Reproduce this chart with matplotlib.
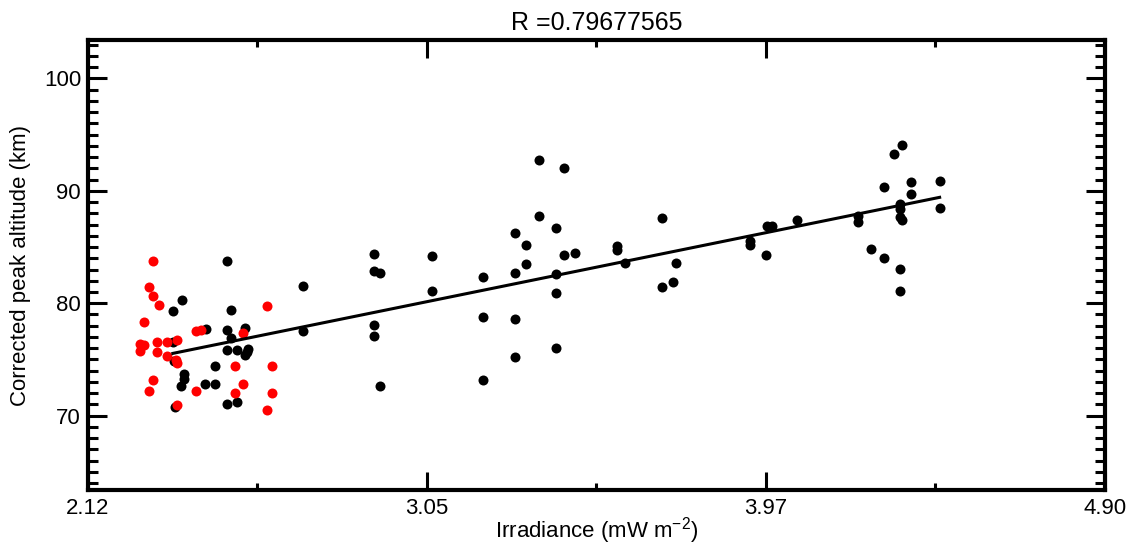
import matplotlib
matplotlib.use("Agg")
import matplotlib.pyplot as plt
from matplotlib.ticker import MultipleLocator, FixedLocator
import numpy as np

plt.rcParams['font.family'] = ['Liberation Sans', 'DejaVu Sans']
plt.rcParams['mathtext.fontset'] = 'custom'
plt.rcParams['mathtext.rm'] = 'Liberation Sans'
plt.rcParams['mathtext.it'] = 'Liberation Sans'

# red points (low irradiance set)
red_x = [2.299, 2.288, 2.299, 2.313, 2.273, 2.262, 2.273, 2.262, 2.310, 2.310,
         2.337, 2.363, 2.335, 2.361, 2.364, 2.297, 2.288, 2.363, 2.415, 2.415,
         2.428, 2.543, 2.609, 2.521, 2.623, 2.543, 2.521, 2.623, 2.609]
red_y = [83.78, 81.44, 80.60, 79.87, 78.29, 76.40, 76.25, 75.72, 76.52, 75.66,
         76.52, 76.76, 75.27, 74.98, 74.68, 73.20, 72.22, 70.98, 72.16, 77.49,
         77.58, 77.35, 79.72, 74.38, 74.38, 72.82, 72.02, 72.02, 70.53]

# black points
blk_x = [2.501, 2.377, 2.352, 2.512, 2.443, 2.501, 2.548, 2.512, 2.499, 2.527,
         2.558, 2.554, 2.548, 2.352, 2.355, 2.466, 2.383, 2.383, 2.375, 2.441,
         2.468, 2.499, 2.527, 2.357, 2.709, 2.709, 2.903, 2.903, 2.917, 2.903,
         2.903, 2.917, 3.060, 3.060, 3.201, 3.201, 3.201, 3.288, 3.318, 3.318,
         3.288, 3.288, 3.288, 3.353, 3.353, 3.420, 3.398, 3.420, 3.452, 3.398,
         3.398, 3.398, 3.566, 3.566, 3.588, 3.690, 3.690, 3.718, 3.728, 3.930,
         3.930, 3.973, 3.976, 3.990, 4.058, 4.224, 4.224, 4.261, 4.297, 4.297,
         4.322, 4.346, 4.340, 4.340, 4.340, 4.345, 4.340, 4.340, 4.370, 4.370,
         4.448, 4.448]
blk_y = [83.78, 80.25, 79.27, 79.36, 77.71, 77.64, 77.76, 76.91, 75.87, 75.87,
         75.93, 75.63, 75.36, 76.52, 74.89, 74.44, 73.73, 73.26, 72.60, 72.84,
         72.82, 71.07, 71.24, 70.74, 81.49, 77.49, 84.40, 82.89, 82.68, 78.06,
         77.05, 72.67, 84.16, 81.11, 82.33, 78.74, 73.14, 86.24, 85.17, 83.48,
         82.68, 78.62, 75.24, 92.76, 87.80, 91.98, 86.71, 84.31, 84.43, 82.62,
         80.87, 76.04, 85.11, 84.69, 83.57, 87.57, 81.40, 81.85, 83.57, 85.56,
         85.20, 84.31, 86.83, 86.83, 87.36, 87.78, 87.24, 84.82, 83.98, 90.29,
         93.29, 94.03, 88.84, 88.40, 87.64, 87.38, 83.02, 81.05, 90.76, 89.71,
         90.83, 88.44]

xticklabels = ['2.12', '3.05', '3.97', '4.90']
yticks = [70, 80, 90, 100]
title = 'R =0.79677565'

fig = plt.figure(figsize=(11.31, 5.46), dpi=100)
ax = fig.add_axes([0.0778, 0.1026, 0.8992, 0.8241])

ax.plot(blk_x, blk_y, 'o', color='black', markersize=7.2, markeredgewidth=0)
ax.plot(red_x, red_y, 'o', color='red', markersize=7.2, markeredgewidth=0)

# linear fit on the black points
coef = np.polyfit(blk_x, blk_y, 1)
fx = np.array([min(blk_x), max(blk_x)])
ax.plot(fx, np.polyval(coef, fx), color='black', linewidth=2.2)

ax.set_xlim(2.12, 4.90)
ax.set_ylim(63.4, 103.4)
ax.xaxis.set_major_locator(FixedLocator(np.linspace(2.12, 4.90, 4)))
ax.set_xticklabels(xticklabels)
ax.xaxis.set_minor_locator(FixedLocator(np.linspace(2.12, 4.90, 7)))
ax.yaxis.set_major_locator(FixedLocator(yticks))
ax.yaxis.set_minor_locator(MultipleLocator(1))

ax.tick_params(which='both', direction='in', top=True, right=True, width=2.2, labelsize=16)
ax.tick_params(axis='y', which='major', length=14, pad=5)
ax.tick_params(axis='y', which='minor', length=7.5)
ax.tick_params(axis='x', which='major', length=13, pad=6)
ax.tick_params(axis='x', which='minor', length=5)
for s in ax.spines.values():
    s.set_linewidth(3)

ax.set_xlabel('Irradiance (mW m$^{-2}$)', fontsize=16, labelpad=-3)
ax.set_ylabel('Corrected peak altitude (km)', fontsize=16, labelpad=9)
ax.set_title(title, fontsize=18, pad=7)

fig.savefig('out.png', dpi=100)
